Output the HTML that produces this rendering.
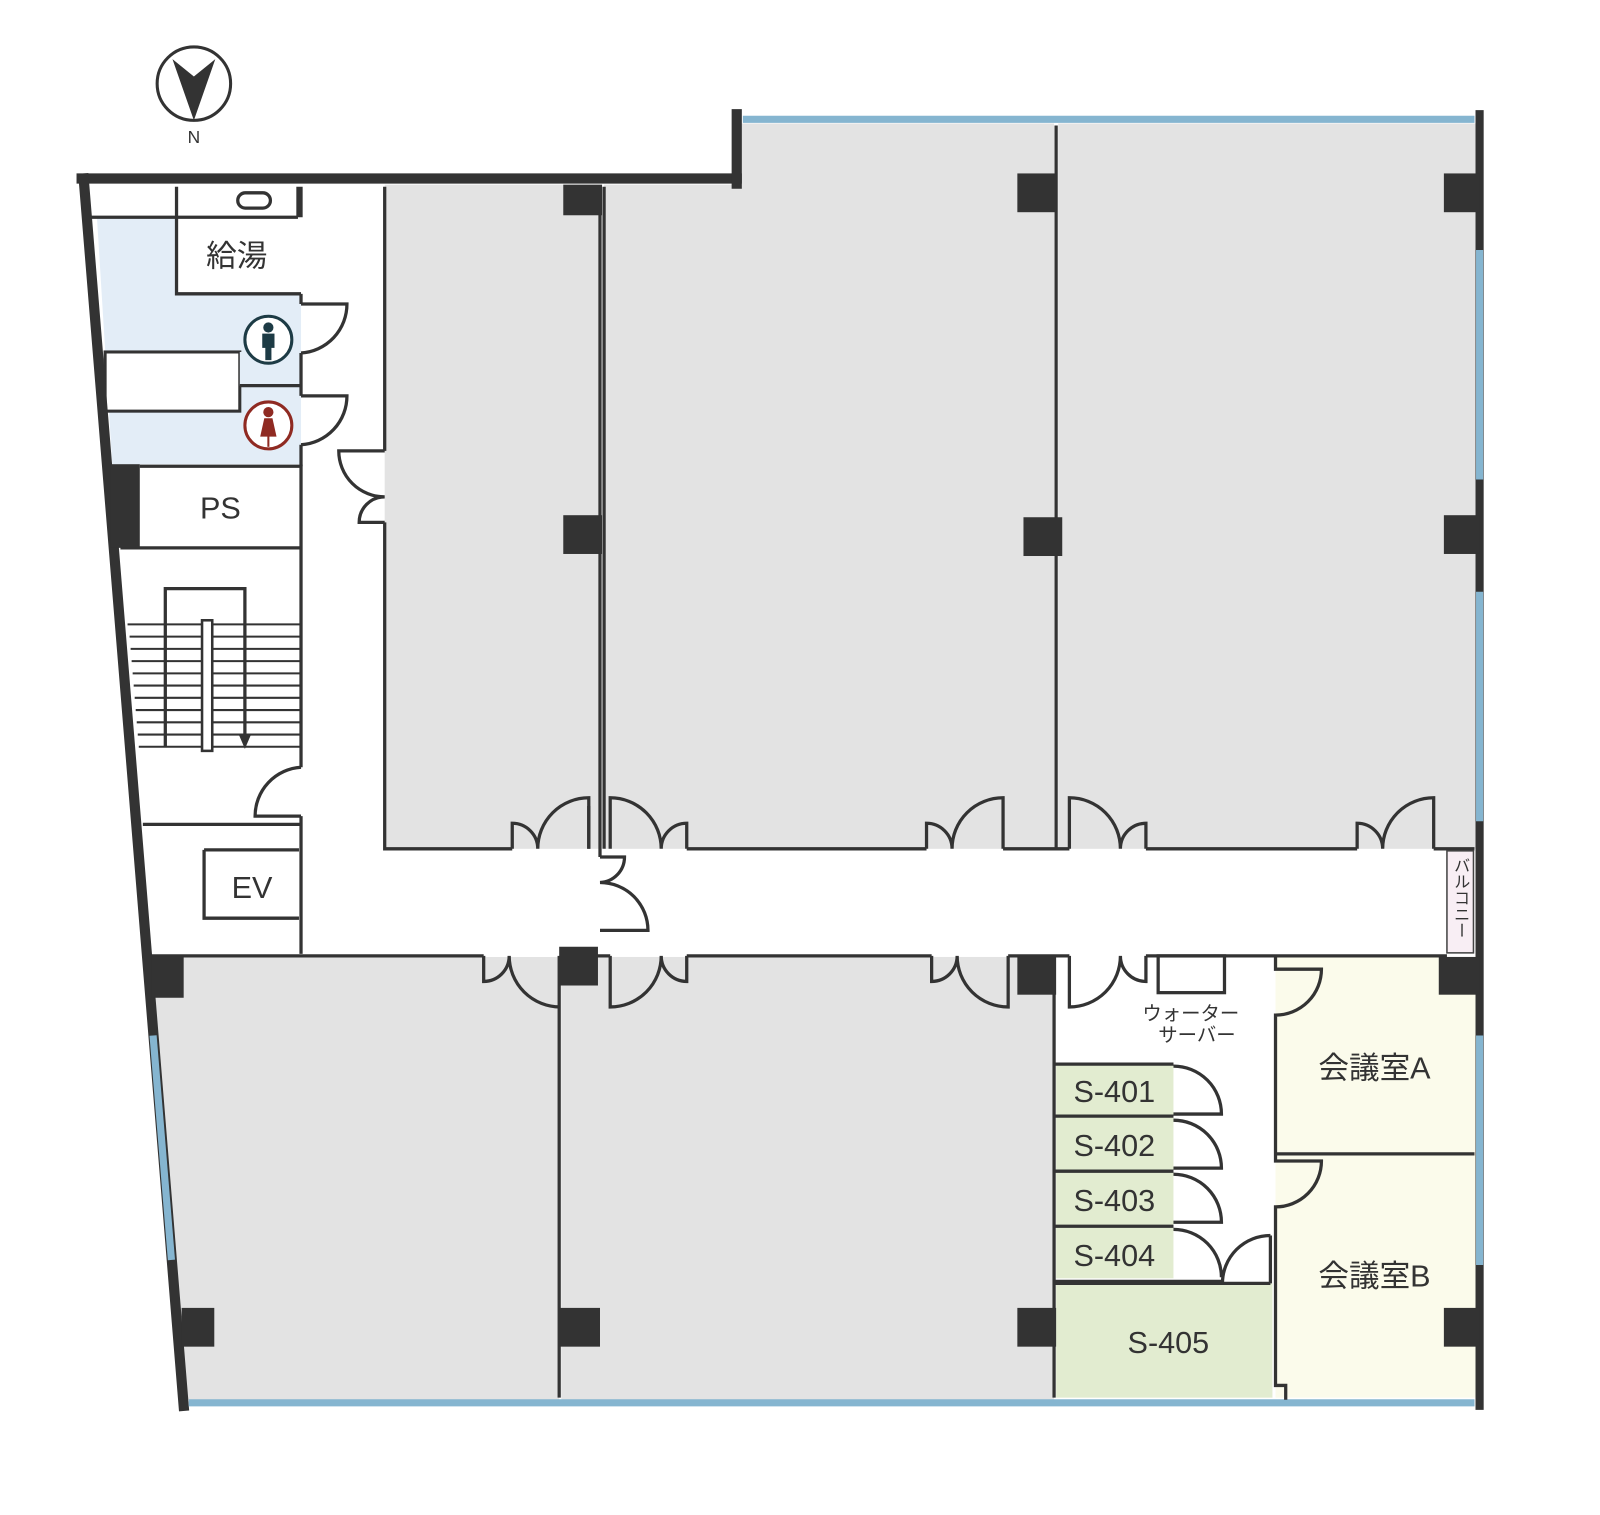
<!DOCTYPE html>
<html><head><meta charset="utf-8"><style>
html,body{margin:0;padding:0;background:#fff}
svg{display:block}
text{font-family:"Liberation Sans","Noto Sans CJK JP",sans-serif;fill:#333}
</style></head><body>
<svg width="1600" height="1515" viewBox="0 0 1568 1485" preserveAspectRatio="none" xmlns="http://www.w3.org/2000/svg">
<!-- room fills -->
<g fill="#e3e3e3">
<rect x="377" y="181" width="211" height="651"/>
<rect x="592" y="181" width="441" height="651"/>
<rect x="722" y="121" width="311" height="62"/>
<rect x="1037" y="121" width="410" height="711"/>
<polygon points="146,938 548,938 548,1372 181,1372"/>
<rect x="550" y="938" width="483" height="434"/>
</g>
<g fill="#e3edf7">
<polygon points="95,213 173,213 173,288 295,288 295,455 110,455"/>
</g>
<g fill="#e2ecd0">
<rect x="1035" y="1043" width="115" height="210"/>
<rect x="1035" y="1258" width="212" height="112"/>
</g>
<g fill="#fbfbeb"><rect x="1250" y="938" width="197" height="432"/></g>
<rect x="1150" y="1043" width="50" height="212" fill="#fff"/>
<rect x="103" y="345" width="132" height="58" fill="#fff" stroke="#333" stroke-width="3"/>
<rect x="235" y="345" width="60" height="33" fill="#e3edf7"/>
<!-- outer walls -->
<g stroke="#333" fill="none" stroke-linecap="square">
<line x1="80" y1="175" x2="722" y2="175" stroke-width="10"/>
<line x1="722" y1="112" x2="722" y2="180" stroke-width="10"/>
<line x1="82" y1="175" x2="180" y2="1378" stroke-width="10"/>
<line x1="1450" y1="112" x2="1450" y2="1378" stroke-width="8"/>
</g>
<g stroke="#85b5d0" stroke-width="7" fill="none">
<line x1="728" y1="117" x2="1445" y2="117"/>
<line x1="185" y1="1375" x2="1445" y2="1375"/>
<line x1="1450" y1="245" x2="1450" y2="470"/>
<line x1="1450" y1="580" x2="1450" y2="805"/>
<line x1="1450" y1="1015" x2="1450" y2="1240"/>
<line x1="150" y1="1015" x2="168" y2="1235"/>
</g>
<!-- interior lines -->
<g stroke="#333" stroke-width="3.2" fill="none">
<path d="M88,213 H292 M173,183 V213 M292,183 V213 M173,213 V288 H295 M295,183 V213"/>
<rect x="233" y="189" width="32" height="15" rx="7.5"/>
<path d="M295,288 V298 M295,346 V388 M295,436 V457 M235,378 H295"/>
<path d="M137,457 H295 V537 H118 M295,537 V752 M295,800 V935"/>
<path d="M140,808 H295 M200,833 H293 M200,833 V900 H293"/>
<path d="M148,937 H474 M549,937 H598 M673,937 H913 M988,937 H1048 M1123,937 H1418"/>
<path d="M377,183 V442 M377,512 V832 H502 M577,832 V790 M588,183 V840 M592,183 V832 M673,832 H908 M983,832 H1048 M1035,123 V832 M1123,832 H1330 M1405,832 H1445"/>
<path d="M548,937 V1370 M1033,937 V1370"/>
<path d="M502,832 V807 A25,25 0 0 1 527,832 A50,50 0 0 1 577,782 V832"/>
<path d="M598,832 V782 A50,50 0 0 1 648,832 A25,25 0 0 1 673,807 V832"/>
<path d="M908,832 V807 A25,25 0 0 1 933,832 A50,50 0 0 1 983,782 V832"/>
<path d="M1048,832 V782 A50,50 0 0 1 1098,832 A25,25 0 0 1 1123,807 V832"/>
<path d="M1330,832 V807 A25,25 0 0 1 1355,832 A50,50 0 0 1 1405,782 V832"/>
<path d="M474,937 V962 A25,25 0 0 0 499,937 A50,50 0 0 0 549,987"/>
<path d="M598,937 V987 A50,50 0 0 0 648,937 A25,25 0 0 0 673,962 V937"/>
<path d="M913,937 V962 A25,25 0 0 0 938,937 A50,50 0 0 0 988,987 V937"/>
<path d="M1048,937 V987 A50,50 0 0 0 1098,937 A25,25 0 0 0 1123,962 V937"/>
<path d="M588,840 H612 A25,25 0 0 1 588,865 A47,47 0 0 1 635,912 H588"/>
<path d="M377,442 H332 A45,45 0 0 0 377,487 A25,25 0 0 0 352,512 H377"/>
<path d="M295,298 H340 A48,48 0 0 1 295,346"/>
<path d="M295,388 H340 A48,48 0 0 1 295,436"/>
<path d="M295,752 A48,48 0 0 0 250,800 H295"/>
<rect x="1135" y="937" width="65" height="36"/>
<path d="M1033,1043 H1150 M1033,1094 H1150 M1033,1148 H1150 M1033,1202 H1150 M1033,1256 H1198 M1033,1258 H1245"/>
<path d="M1150,1045 A47,47 0 0 1 1197,1092 H1150"/>
<path d="M1150,1098 A47,47 0 0 1 1197,1145 H1150"/>
<path d="M1150,1151 A47,47 0 0 1 1197,1198 H1150"/>
<path d="M1150,1205 A47,47 0 0 1 1197,1252"/>
<path d="M1245,1211 A47,47 0 0 0 1198,1258 M1245,1211 V1258"/>
<path d="M1250,937 V950 H1295 A45,45 0 0 1 1250,995 V1131 H1445 M1250,1131 V1138 H1295 A45,45 0 0 1 1250,1183 V1358 H1260 V1372"/>
<path d="M125,612 H295 M127,624 H295 M128,636 H295 M129,648 H295 M130,660 H295 M131,672 H295 M132,684 H295 M133,696 H295 M134,708 H295 M135,720 H295 M136,732 H295" stroke-width="2"/>
<path d="M162,732 V577 H240 V725"/>
</g>
<rect x="198" y="608" width="10" height="128" fill="#fff" stroke="#333" stroke-width="2.5"/>
<polygon points="234,720 246,720 240,734" fill="#333"/>
<g fill="#333">
<rect x="552" y="181" width="38" height="30"/><rect x="552" y="505" width="38" height="38"/>
<rect x="997" y="170" width="38" height="38"/><rect x="1003" y="507" width="38" height="38"/>
<rect x="1415" y="170" width="35" height="38"/><rect x="1415" y="505" width="35" height="38"/>
<rect x="108" y="455" width="29" height="82"/>
<rect x="148" y="938" width="32" height="40"/><rect x="548" y="928" width="38" height="38"/>
<rect x="997" y="938" width="38" height="37"/><rect x="1410" y="938" width="40" height="37"/>
<rect x="178" y="1282" width="32" height="38"/><rect x="548" y="1282" width="40" height="38"/>
<rect x="997" y="1282" width="38" height="38"/><rect x="1415" y="1282" width="35" height="38"/>
</g>
<rect x="1418" y="834" width="26" height="100" fill="#f8eef4" stroke="#444" stroke-width="1.5"/>
<text x="1431" y="840" font-size="16" style="writing-mode:vertical-rl">バルコニー</text>
<circle cx="190" cy="82" r="36" fill="#fff" stroke="#333" stroke-width="3"/>
<polygon points="169,58 190,75 211,58 190,118" fill="#333"/>
<text x="190" y="140" font-size="17" text-anchor="middle">N</text>
<circle cx="263" cy="333" r="23" fill="#fff" stroke="#1d3b45" stroke-width="3"/>
<circle cx="263" cy="321" r="5" fill="#1d3b45"/><rect x="257" y="327" width="12" height="14" fill="#1d3b45"/><rect x="260" y="338" width="6" height="15" fill="#1d3b45"/>
<circle cx="263" cy="417" r="23" fill="#fff" stroke="#8f2a22" stroke-width="3"/>
<circle cx="263" cy="404" r="5" fill="#8f2a22"/><polygon points="259,410 267,410 271,428 255,428" fill="#8f2a22"/><rect x="262" y="426" width="2" height="12" fill="#8f2a22"/>
<g font-size="30">
<text x="232" y="261" text-anchor="middle">給湯</text>
<text x="216" y="508" text-anchor="middle">PS</text>
<text x="247" y="880" text-anchor="middle">EV</text>
<text x="1092" y="1080" text-anchor="middle">S-401</text>
<text x="1092" y="1133" text-anchor="middle">S-402</text>
<text x="1092" y="1187" text-anchor="middle">S-403</text>
<text x="1092" y="1241" text-anchor="middle">S-404</text>
<text x="1145" y="1326" text-anchor="middle">S-405</text>
<text x="1347" y="1057" text-anchor="middle">会議室A</text>
<text x="1347" y="1261" text-anchor="middle">会議室B</text>
</g>
<text x="1167" y="1000" font-size="19" text-anchor="middle">ウォーター</text>
<text x="1173" y="1021" font-size="19" text-anchor="middle">サーバー</text>
</svg>
</body></html>
